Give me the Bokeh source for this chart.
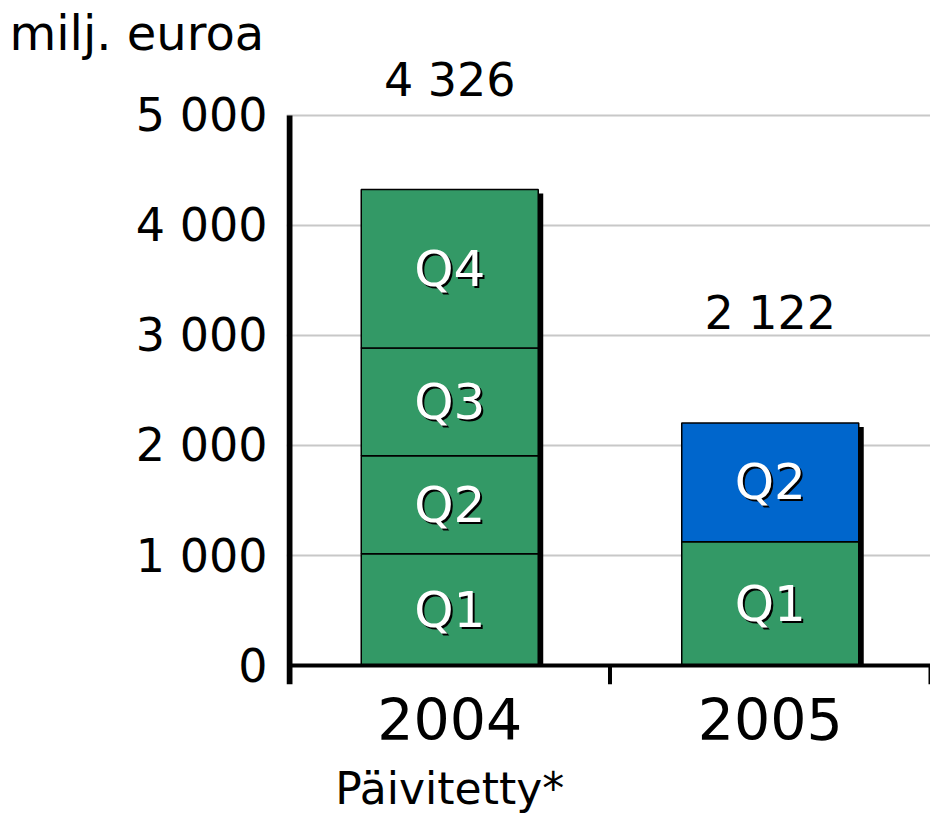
from bokeh.plotting import figure
from bokeh.models import ColumnDataSource, Range1d, FixedTicker, LinearAxis, Title
from bokeh.core.properties import value
from bokeh.embed import file_html
from bokeh.resources import INLINE

# ---------------- data ----------------
categories = ["2004", "2005"]
category_notes = ["Päivitetty*", ""]
quarters = ["Q1", "Q2", "Q3", "Q4"]
q1 = [1016, 1125]
q2 = [890, 1080]
q3 = [980, 0]
q4 = [1440, 0]
total_labels = ["4 326", "2 122"]
y_ticks = [0, 1000, 2000, 3000, 4000, 5000]
y_tick_labels = ["0", "1 000", "2 000", "3 000", "4 000", "5 000"]
unit_label = "milj. euroa"

# ---------------- style ----------------
FONT = "DejaVu Sans"
GREEN = "#339966"
BLUE = "#0066CC"
GRID = "#c8c8c8"
W, H = 930, 816
BORDER_LEFT, BORDER_BOTTOM, BORDER_TOP = 286, 131, 60
PX_PER_UNIT_Y = 551 / 5000.0        # pixels per value unit
ZERO_FROM_TOP = 666                 # pixel row of value 0 inside the figure
frame_h = H - BORDER_BOTTOM - BORDER_TOP
zero_in_frame = ZERO_FROM_TOP - BORDER_TOP
y_start = -(frame_h - zero_in_frame) / PX_PER_UNIT_Y
y_end = zero_in_frame / PX_PER_UNIT_Y
n = len(categories)
frame_w = W - BORDER_LEFT
x_start = -3.0 / (frame_w / n)
px_per_unit_x = frame_w / (n - x_start)
BAR_W = 177 / px_per_unit_x
SH_DX = 5 / px_per_unit_x
SH_DY = 4 / PX_PER_UNIT_Y

p = figure(width=W, height=H, x_range=Range1d(x_start, n), y_range=Range1d(y_start, y_end),
           output_backend="svg", toolbar_location=None,
           min_border_left=BORDER_LEFT, min_border_right=0, min_border_top=BORDER_TOP,
           min_border_bottom=BORDER_BOTTOM, x_axis_type=None)
p.outline_line_color = None
p.background_fill_color = "white"
p.border_fill_color = "white"
p.xgrid.visible = False
p.ygrid.ticker = FixedTicker(ticks=y_ticks[1:])
p.ygrid.grid_line_color = GRID
p.ygrid.grid_line_width = 2

# unit label as a left-shifted title
p.add_layout(Title(text=unit_label, align="left", offset=-(BORDER_LEFT - 9), standoff=0,
                   text_font=FONT, text_font_size="48px", text_font_style="normal",
                   text_color="black"), "above")

# y axis: labels only
ya = p.yaxis[0]
ya.ticker = FixedTicker(ticks=y_ticks)
ya.major_label_overrides = {t: l for t, l in zip(y_ticks, y_tick_labels)}
ya.axis_line_color = None
ya.major_tick_line_color = None
ya.minor_tick_line_color = None
ya.major_label_text_font = FONT
ya.major_label_text_font_size = "46px"
ya.major_label_text_color = "black"
ya.major_label_standoff = 13

# x axis: category labels, and notes below
centers = [i + 0.5 for i in range(n)]
xa = LinearAxis(ticker=FixedTicker(ticks=centers),
                major_label_overrides={c: k for c, k in zip(centers, categories)})
xa.axis_line_color = None
xa.major_tick_line_color = None
xa.minor_tick_line_color = None
xa.major_label_text_font = FONT
xa.major_label_text_font_size = "57px"
xa.major_label_text_color = "black"
xa.major_label_standoff = 7
p.add_layout(xa, "below")

xn = LinearAxis(ticker=FixedTicker(ticks=centers),
                major_label_overrides={c: k for c, k in zip(centers, category_notes)})
xn.axis_line_color = None
xn.major_tick_line_color = None
xn.minor_tick_line_color = None
xn.major_label_text_font = FONT
xn.major_label_text_font_size = "44px"
xn.major_label_text_color = "black"
xn.major_label_standoff = 14
p.add_layout(xn, "below")

# ---------------- bars ----------------
series = [q1, q2, q3, q4]
totals = [sum(s[i] for s in series) for i in range(n)]

# drop shadows
p.vbar(x=[c + SH_DX for c in centers], width=BAR_W, bottom=0,
       top=[t - SH_DY for t in totals], fill_color="black", line_color=None)

seg = dict(x=[], bottom=[], top=[], mid=[], color=[], q=[])
for i, cat in enumerate(categories):
    acc = 0
    for j, qn in enumerate(quarters):
        v = series[j][i]
        if v <= 0:
            continue
        seg["x"].append(centers[i])
        seg["bottom"].append(acc)
        seg["top"].append(acc + v)
        seg["mid"].append(acc + v / 2)
        seg["color"].append(BLUE if (cat == "2005" and qn == "Q2") else GREEN)
        seg["q"].append(qn)
        acc += v
src = ColumnDataSource(seg)
p.vbar(x="x", width=BAR_W, bottom="bottom", top="top", fill_color="color",
       line_color="black", line_width=1.5, source=src)

# quarter labels with shadow
p.text(x="x", y="mid", text="q", source=src, text_align="center", text_baseline="middle",
       text_font=value(FONT), text_font_size="50px", text_color="black", x_offset=2, y_offset=2)
p.text(x="x", y="mid", text="q", source=src, text_align="center", text_baseline="middle",
       text_font=value(FONT), text_font_size="50px", text_color="white")

# totals
p.text(x=centers, y=totals, text=total_labels, text_align="center", text_baseline="alphabetic",
       y_offset=-110, text_font=value(FONT), text_font_size="46px", text_color="black")

# axis lines drawn on top
p.segment(x0=[0], y0=[y_start], x1=[0], y1=[y_ticks[-1]], line_color="black", line_width=6)
p.segment(x0=[0], y0=[0], x1=[n], y1=[0], line_color="black", line_width=4)
bx = list(range(1, n + 1))
p.segment(x0=bx, y0=[y_start] * len(bx), x1=bx, y1=[0] * len(bx), line_color="black", line_width=4)

open("out.html", "w").write(file_html(p, INLINE))
